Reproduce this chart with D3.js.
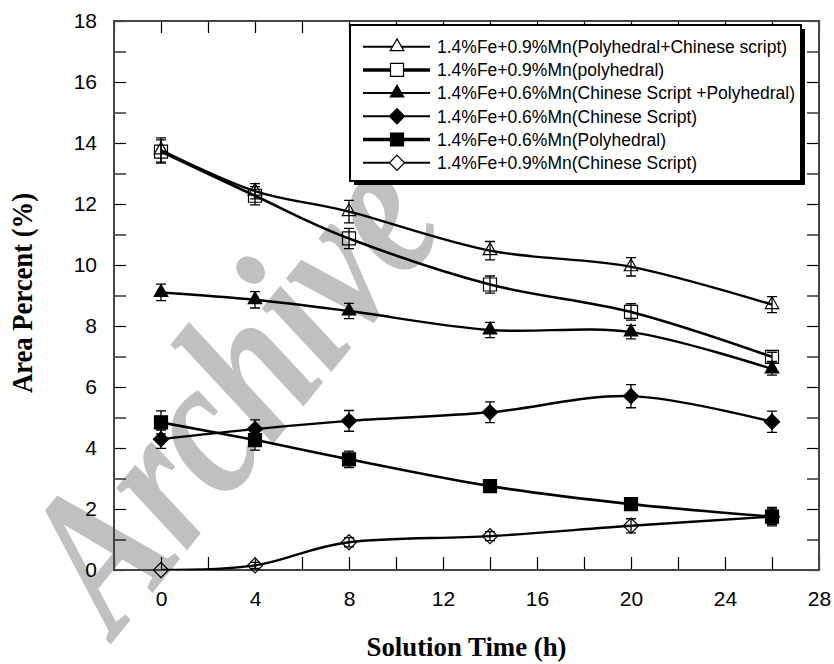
<!DOCTYPE html>
<html>
<head>
<meta charset="utf-8">
<script src="https://cdn.jsdelivr.net/npm/d3@7/dist/d3.min.js"></script>
<style>
  html, body { margin: 0; padding: 0; background: #fff; }
  svg { display: block; }
</style>
</head>
<body>
<svg id="chart" width="834" height="664"></svg>
<script>
// solution time (h)
var times = [0, 4, 8, 14, 20, 26];

var seriesNames = [
    '1.4%Fe+0.9%Mn(Polyhedral+Chinese script)',
    '1.4%Fe+0.9%Mn(polyhedral)',
    '1.4%Fe+0.6%Mn(Chinese Script +Polyhedral)',
    '1.4%Fe+0.6%Mn(Chinese Script)',
    '1.4%Fe+0.6%Mn(Polyhedral)',
    '1.4%Fe+0.9%Mn(Chinese Script)'
];

// area percent values, one array per series
var fe14mn09Mixed = [13.77, 12.42, 11.75, 10.47, 9.94, 8.70];
var fe14mn09Poly = [13.72, 12.27, 10.87, 9.36, 8.46, 6.99];
var fe14mn06Mixed = [9.10, 8.86, 8.49, 7.87, 7.80, 6.59];
var fe14mn06Chinese = [4.29, 4.62, 4.89, 5.17, 5.70, 4.86];
var fe14mn06Poly = [4.84, 4.26, 3.63, 2.75, 2.16, 1.75];
var fe14mn09Chinese = [0, 0.15, 0.91, 1.11, 1.45, 1.75];

// error bar half heights
var err09Mixed = [0.40, 0.25, 0.37, 0.30, 0.30, 0.26];
var err09Poly = [0.38, 0.30, 0.33, 0.28, 0.27, 0.15];
var err06Mixed = [0.27, 0.27, 0.25, 0.25, 0.22, 0.20];
var err06Chinese = [0.30, 0.30, 0.34, 0.34, 0.38, 0.35];
var err06Poly = [0.38, 0.33, 0.27, 0.10, 0.10, 0.30];
var err09Chinese = [0, 0.10, 0.15, 0.15, 0.23, 0.25];

var xTicks = d3.range(-2, 29, 2);
var yTicks = d3.range(0, 19, 1);

var svg = d3.select('#chart');
var margin = {top: 21, right: 15, bottom: 94, left: 114};
var width = 834 - margin.left - margin.right,
    height = 664 - margin.top - margin.bottom;

var xScale = d3.scaleLinear().domain([-2, 28]).range([0, width]);
var yScale = d3.scaleLinear().domain([0, 18]).range([height, 0]);

// watermark sits under everything
svg.append('text')
    .attr('transform', 'translate(116,638) rotate(-51)')
    .attr('font-family', '"Liberation Serif", "Times New Roman", serif')
    .attr('font-weight', 'bold')
    .attr('font-style', 'italic')
    .attr('font-size', 205)
    .attr('textLength', 530).attr('lengthAdjust', 'spacingAndGlyphs')
    .attr('fill', '#c0c0c0')
    .text('Archive');

var g = svg.append('g').attr('transform', 'translate(' + margin.left + ',' + margin.top + ')');

g.append('clipPath').attr('id', 'plotClip')
    .append('rect').attr('x', 0).attr('y', 0).attr('width', width).attr('height', height);

var tickFont = '"Liberation Sans", Arial, sans-serif';

function labelEvenX(d) { return (d >= 0 && d % 4 === 0) ? d : ''; }
function labelEvenY(d) { return d % 2 === 0 ? d : ''; }

var bottomAxis = g.append('g').attr('transform', 'translate(0,' + height + ')')
    .call(d3.axisBottom(xScale).tickValues(xTicks).tickSize(-13).tickPadding(21).tickFormat(labelEvenX));
var topAxis = g.append('g')
    .call(d3.axisTop(xScale).tickValues(xTicks).tickSize(-12).tickFormat(''));
var leftAxis = g.append('g')
    .call(d3.axisLeft(yScale).tickValues(yTicks).tickSize(-12).tickPadding(17).tickFormat(labelEvenY));
var rightAxis = g.append('g').attr('transform', 'translate(' + width + ',0)')
    .call(d3.axisRight(yScale).tickValues(yTicks).tickSize(-12).tickFormat(''));

[bottomAxis, topAxis, leftAxis, rightAxis].forEach(function(a) {
    a.select('.domain').remove();
    a.selectAll('line').attr('stroke', '#000').attr('stroke-width', 1.2);
    a.selectAll('text').attr('font-family', tickFont).attr('font-size', 21).attr('fill', '#000');
});

// frame
g.append('rect')
    .attr('x', 0).attr('y', 0).attr('width', width).attr('height', height)
    .attr('fill', 'none').attr('stroke', '#444').attr('stroke-width', 2);

// marker shapes
var triPath = d3.symbol(d3.symbolTriangle, 80)();
var sqPath = d3.symbol(d3.symbolSquare, 169)();
var diaPath = d3.symbol(d3.symbolSquare, 115)();

var series = [
    {values: fe14mn09Mixed, err: err09Mixed, shape: triPath, rot: 0, fill: 'none', lw: 2.4, legendLw: 2},
    {values: fe14mn09Poly, err: err09Poly, shape: sqPath, rot: 0, fill: 'none', lw: 2.6, legendLw: 3.5},
    {values: fe14mn06Mixed, err: err06Mixed, shape: triPath, rot: 0, fill: '#000', lw: 2.4, legendLw: 2},
    {values: fe14mn06Chinese, err: err06Chinese, shape: diaPath, rot: 45, fill: '#000', lw: 2.4, legendLw: 2},
    {values: fe14mn06Poly, err: err06Poly, shape: sqPath, rot: 0, fill: '#000', lw: 2.6, legendLw: 3.5},
    {values: fe14mn09Chinese, err: err09Chinese, shape: diaPath, rot: 45, fill: 'none', lw: 2.4, legendLw: 2}
];

var line = d3.line()
    .x(function(d, i) { return xScale(times[i]); })
    .y(function(d) { return yScale(d); })
    .curve(d3.curveCatmullRom.alpha(0));

var plot = g.append('g').attr('clip-path', 'url(#plotClip)');

series.forEach(function(s) {
    plot.append('path')
        .attr('d', line(s.values))
        .attr('fill', 'none')
        .attr('stroke', '#000')
        .attr('stroke-width', s.lw);
});

var capHalf = 5;
series.forEach(function(s) {
    var grp = g.append('g');
    s.values.forEach(function(v, i) {
        var px = xScale(times[i]);
        grp.append('path')
            .attr('d', s.shape)
            .attr('transform', 'translate(' + px + ',' + yScale(v) + ') rotate(' + s.rot + ')')
            .attr('fill', s.fill)
            .attr('stroke', '#000')
            .attr('stroke-width', 1.2);
        if (s.err[i] > 0) {
            var top = yScale(v + s.err[i]), bot = yScale(v - s.err[i]);
            grp.append('path')
                .attr('d', 'M' + px + ',' + top + 'V' + bot +
                    'M' + (px - capHalf) + ',' + top + 'H' + (px + capHalf) +
                    'M' + (px - capHalf) + ',' + bot + 'H' + (px + capHalf))
                .attr('stroke', '#000')
                .attr('stroke-width', 1.3)
                .attr('fill', 'none');
        }
    });
});

// legend box with drop shadow
var legend = svg.append('g').attr('transform', 'translate(350,25)');
var legendW = 451, legendH = 156;
legend.append('rect')
    .attr('x', 4).attr('y', 4).attr('width', legendW).attr('height', legendH)
    .attr('fill', '#000');
legend.append('rect')
    .attr('x', 0).attr('y', 0).attr('width', legendW).attr('height', legendH)
    .attr('fill', '#fff').attr('stroke', '#000').attr('stroke-width', 2);

series.forEach(function(s, i) {
    var ry = 21.7 + i * 23.2;
    legend.append('line')
        .attr('x1', 13).attr('x2', 80).attr('y1', ry).attr('y2', ry)
        .attr('stroke', '#000').attr('stroke-width', s.legendLw);
    legend.append('path')
        .attr('d', s.shape)
        .attr('transform', 'translate(47,' + ry + ') rotate(' + s.rot + ')')
        .attr('fill', s.fill === 'none' ? '#fff' : s.fill)
        .attr('stroke', '#000')
        .attr('stroke-width', 1.2);
    legend.append('text')
        .attr('x', 87).attr('y', ry).attr('dy', '0.36em')
        .attr('font-family', tickFont)
        .attr('font-size', 17.5)
        .text(seriesNames[i]);
});

// axis titles
var titleFont = '"Liberation Serif", "Times New Roman", serif';
svg.append('text')
    .attr('x', margin.left + width / 2).attr('y', 656)
    .attr('text-anchor', 'middle')
    .attr('font-family', titleFont).attr('font-weight', 'bold').attr('font-size', 28)
    .attr('textLength', 200).attr('lengthAdjust', 'spacingAndGlyphs')
    .text('Solution Time (h)');

svg.append('text')
    .attr('transform', 'translate(32,293) rotate(-90)')
    .attr('text-anchor', 'middle')
    .attr('font-family', titleFont).attr('font-weight', 'bold').attr('font-size', 29)
    .attr('textLength', 200).attr('lengthAdjust', 'spacingAndGlyphs')
    .text('Area Percent (%)');
</script>
</body>
</html>
